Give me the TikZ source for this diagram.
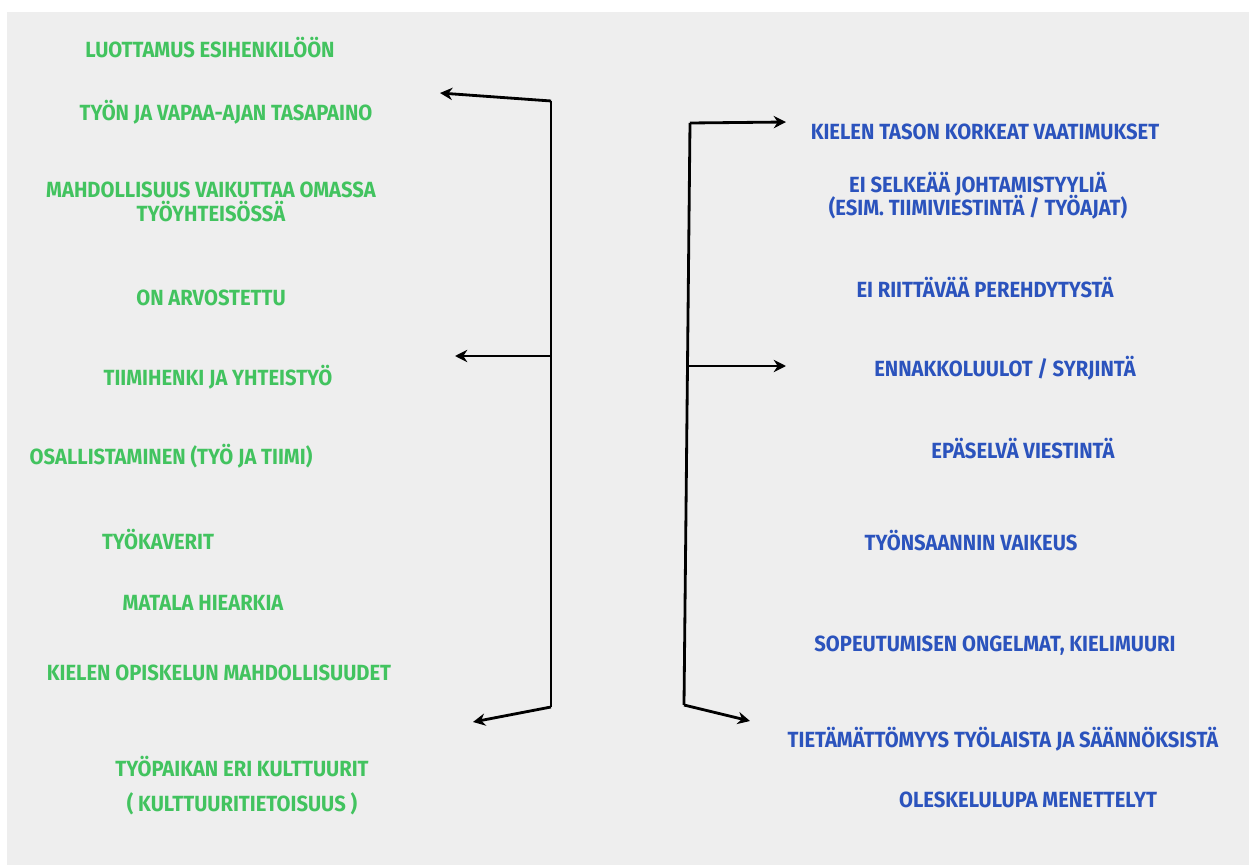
\documentclass[tikz,border=0pt]{standalone}
\usepackage{fontspec}
\setmainfont[FakeStretch=0.92]{Fira Sans}
\usetikzlibrary{arrows.meta}

\definecolor{pagegray}{HTML}{EEEEEE}
\definecolor{plusgreen}{HTML}{42C35F}
\definecolor{minusblue}{HTML}{2B53BD}

\begin{document}
\begin{tikzpicture}[
    x=0.02cm, y=-0.02cm,
    font=\bfseries\fontsize{12.5}{14}\selectfont,
    good/.style={text=plusgreen,align=center,inner sep=0pt},
    bad/.style={text=minusblue,align=center,inner sep=0pt},
    line/.style={line width=1.6pt},
    pointer/.style={line width=1.6pt,-{Stealth[length=7pt,width=7pt]}}
]

% === Background ===
\useasboundingbox (0,0) rectangle (1249,865);
\fill[pagegray] (7,12) rectangle (1249,865);

% === Positive factors ===
\node[good] (g1) at (210,48) {LUOTTAMUS ESIHENKILÖÖN};
\node[good] (g2) at (226,112) {TYÖN JA VAPAA-AJAN TASAPAINO};
\node[good] (g3) at (211,202) {MAHDOLLISUUS VAIKUTTAA OMASSA\\[0pt]TYÖYHTEISÖSSÄ};
\node[good] (g4) at (211,298) {ON ARVOSTETTU};
\node[good] (g5) at (218,377) {TIIMIHENKI JA YHTEISTYÖ};
\node[good] (g6) at (171,456) {OSALLISTAMINEN (TYÖ JA TIIMI)};
\node[good] (g7) at (158,540) {TYÖKAVERIT};
\node[good] (g8) at (203,603) {MATALA HIEARKIA};
\node[good] (g9) at (219,673) {KIELEN OPISKELUN MAHDOLLISUUDET};
\node[good] (g10) at (242,786) {TYÖPAIKAN ERI KULTTUURIT\\[6pt]( KULTTUURITIETOISUUS )};

% === Negative factors ===
\node[bad] (b1) at (985,132) {KIELEN TASON KORKEAT VAATIMUKSET};
\node[bad] (b2) at (978,196) {EI SELKEÄÄ JOHTAMISTYYLIÄ\\[-1pt](ESIM. TIIMIVIESTINTÄ / TYÖAJAT)};
\node[bad] (b3) at (985,288) {EI RIITTÄVÄÄ PEREHDYTYSTÄ};
\node[bad] (b4) at (1005,368) {ENNAKKOLUULOT / SYRJINTÄ};
\node[bad] (b5) at (1023,449) {EPÄSELVÄ VIESTINTÄ};
\node[bad] (b6) at (971,541) {TYÖNSAANNIN VAIKEUS};
\node[bad] (b7) at (995,646) {SOPEUTUMISEN ONGELMAT, KIELIMUURI};
\node[bad] (b8) at (1003,739) {TIETÄMÄTTÖMYYS TYÖLAISTA JA SÄÄNNÖKSISTÄ};
\node[bad] (b9) at (1028,800) {OLESKELULUPA MENETTELYT};

% === Left bracket ===
\coordinate (Ltop) at (551,101);
\coordinate (Lmid) at (551,356);
\coordinate (Lbot) at (551,707);
\coordinate (Lt) at (440,93);
\coordinate (Lm) at (455,356);
\coordinate (Lb) at (473,722);

\draw[line] (Ltop) -- (Lbot);
\draw[pointer] (Ltop) -- (Lt);
\draw[pointer] (Lmid) -- (Lm);
\draw[pointer] (Lbot) -- (Lb);

% === Right bracket ===
\coordinate (Rtop) at (690,123);
\coordinate (Rmid) at (688,366);
\coordinate (Rbot) at (684,705);
\coordinate (Rt) at (786,122);
\coordinate (Rm) at (786,366);
\coordinate (Rb) at (750,721);

\draw[line] (Rtop) -- (Rbot);
\draw[pointer] (Rtop) -- (Rt);
\draw[pointer] (Rmid) -- (Rm);
\draw[pointer] (Rbot) -- (Rb);

\end{tikzpicture}
\end{document}
